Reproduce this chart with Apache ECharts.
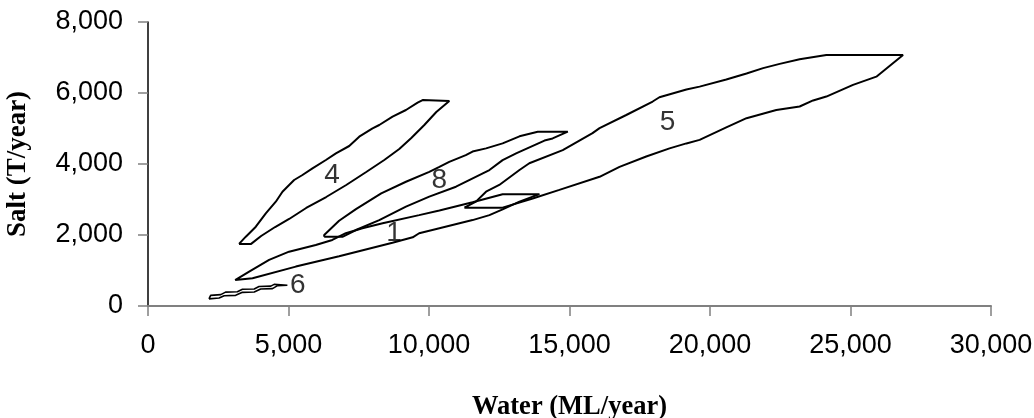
<!DOCTYPE html>
<html>
<head>
<meta charset="utf-8">
<script src="https://cdn.jsdelivr.net/npm/echarts@6/dist/echarts.min.js"></script>
<style>
html,body{margin:0;padding:0;background:#fff;}
#chart{width:1034px;height:418px;}
</style>
</head>
<body>
<div id="chart"></div>
<script>
// Axis ticks
const xTicks = [0, 5000, 10000, 15000, 20000, 25000, 30000];
const yTicks = [0, 2000, 4000, 6000, 8000];

// Loop 1 (closed outline)
const loop1X = [3100, 3600, 4310, 5020, 5970, 6560, 7040, 7630, 8350, 9650, 10370, 11550, 12620, 13930, 13220, 12620, 12150, 11550, 10370, 9650, 9420, 8700, 6800, 5260, 3720, 3100];
const loop1Y = [730, 970, 1300, 1530, 1720, 1860, 2050, 2190, 2330, 2560, 2690, 2920, 3150, 3150, 2940, 2720, 2560, 2420, 2190, 2050, 1935, 1780, 1400, 1110, 780, 730];

// Loop 4
const loop4X = [3240, 3670, 4026, 4524, 5023, 5629, 6341, 7054, 7766, 8408, 8942, 9370, 9833, 10260, 10723, 10723, 9772, 9594, 9180, 8703, 8230, 7991, 7517, 7161, 6687, 6331, 5853, 5497, 5201, 5023, 4785, 4548, 4192, 3837, 3481, 3240];
const loop4Y = [1750, 1750, 1972, 2225, 2451, 2761, 3070, 3408, 3775, 4113, 4423, 4732, 5099, 5465, 5775, 5800, 5800, 5727, 5521, 5333, 5099, 5005, 4769, 4507, 4301, 4113, 3879, 3690, 3549, 3408, 3220, 2938, 2611, 2234, 1953, 1750];

// Loop 5
const loop5X = [11260, 12620, 13690, 14640, 16070, 16780, 17730, 18560, 19160, 19630, 20580, 21300, 22360, 23190, 23670, 24140, 25090, 25920, 26870, 24140, 23190, 22480, 21890, 21300, 20580, 19630, 19160, 18200, 17960, 17020, 16070, 15820, 14760, 13570, 13220, 12500, 12030, 11670, 11260];
const loop5Y = [2770, 2770, 3030, 3270, 3640, 3920, 4210, 4440, 4580, 4680, 5030, 5290, 5520, 5620, 5790, 5900, 6230, 6460, 7070, 7070, 6950, 6820, 6700, 6550, 6380, 6180, 6100, 5880, 5760, 5380, 5010, 4870, 4390, 4020, 3830, 3410, 3220, 2940, 2770];

// Loop 6
const loop6X = [2170, 2530, 2710, 3120, 3360, 3780, 4010, 4430, 4610, 4960, 4960, 4490, 4370, 3950, 3780, 3360, 3180, 2760, 2590, 2230, 2170];
const loop6Y = [200, 225, 290, 300, 385, 395, 480, 490, 575, 585, 630, 610, 560, 550, 480, 470, 400, 390, 320, 300, 200];

// Loop 8
const loop8X = [6270, 6920, 7400, 8230, 9180, 10010, 10960, 12150, 12620, 13100, 14110, 14400, 14940, 13870, 13220, 12620, 12030, 11550, 11310, 10720, 10370, 10010, 9180, 8300, 7400, 6800, 6270, 6270];
const loop8Y = [1950, 1950, 2140, 2420, 2800, 3080, 3360, 3830, 4110, 4300, 4660, 4720, 4910, 4910, 4780, 4580, 4440, 4350, 4250, 4060, 3920, 3780, 3500, 3170, 2730, 2400, 2000, 1950];

// Loop labels
const labelNames = ['1', '4', '5', '6', '8'];
const labelX = [8760, 6550, 18490, 5330, 10370];
const labelY = [2060, 3690, 5180, 590, 3550];

const loops = [
  [loop1X, loop1Y], [loop4X, loop4Y], [loop5X, loop5Y], [loop6X, loop6Y], [loop8X, loop8Y]
];

const fmt = v => Number(v).toLocaleString('en-US');

const series = loops.map(([xs, ys], i) => ({
  type: 'line',
  name: 'Loop ' + labelNames[i],
  data: xs.map((x, k) => [x, ys[k]]),
  showSymbol: false,
  symbol: 'none',
  lineStyle: { color: '#000', width: i === 3 ? 1.6 : 2 },
  z: 2,
  silent: true
}));

series.push({
  type: 'scatter',
  data: labelX.map((x, k) => [x, labelY[k], labelNames[k]]),
  symbolSize: 0,
  label: {
    show: true,
    position: 'inside',
    formatter: p => p.data[2],
    color: '#000',
    fontFamily: 'Liberation Sans, Arial, sans-serif',
    fontSize: 28
  },
  z: 3,
  silent: true
});

const chart = echarts.init(document.getElementById('chart'), null, { renderer: 'canvas' });
chart.setOption({
  animation: false,
  backgroundColor: '#fff',
  grid: { left: 148, right: 43, top: 22, bottom: 112, containLabel: false, outerBoundsMode: 'none' },
  xAxis: {
    type: 'value',
    min: xTicks[0],
    max: xTicks[xTicks.length - 1],
    interval: xTicks[1] - xTicks[0],
    name: 'Water (ML/year)',
    nameLocation: 'middle',
    nameGap: 88,
    nameTextStyle: { fontFamily: 'Liberation Serif, Times New Roman, serif', fontWeight: 'bold', fontSize: 26.5, color: '#000' },
    axisLine: { show: true, onZero: false, lineStyle: { color: '#808080', width: 2 } },
    axisTick: { show: true, inside: false, length: 10, lineStyle: { color: '#808080', width: 1.5 } },
    axisLabel: { formatter: fmt, margin: 26, color: '#000', fontFamily: 'Liberation Sans, Arial, sans-serif', fontSize: 27 },
    splitLine: { show: false }
  },
  yAxis: {
    type: 'value',
    min: yTicks[0],
    max: yTicks[yTicks.length - 1],
    interval: yTicks[1] - yTicks[0],
    name: 'Salt (T/year)',
    nameLocation: 'middle',
    nameRotate: 90,
    nameGap: 116,
    nameTextStyle: { fontFamily: 'Liberation Serif, Times New Roman, serif', fontWeight: 'bold', fontSize: 27, color: '#000' },
    axisLine: { show: true, onZero: false, lineStyle: { color: '#000', width: 1.5 } },
    axisTick: { show: true, inside: false, length: 10, lineStyle: { color: '#808080', width: 1.5 } },
    axisLabel: { formatter: fmt, margin: 25, color: '#000', fontFamily: 'Liberation Sans, Arial, sans-serif', fontSize: 27 },
    splitLine: { show: false }
  },
  series: series
});
</script>
</body>
</html>
